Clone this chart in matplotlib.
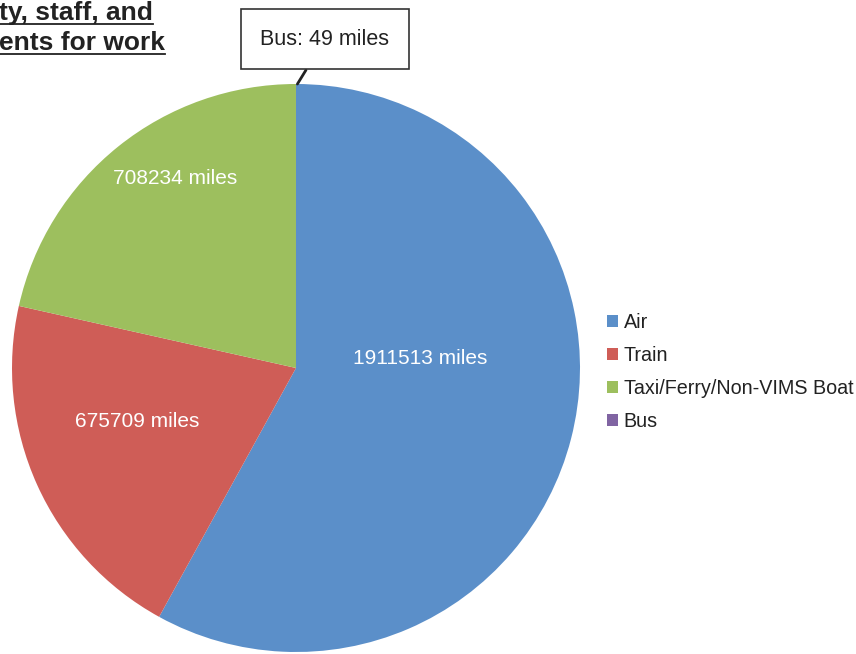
import numpy as np
import matplotlib
matplotlib.use("Agg")
import matplotlib.pyplot as plt
from matplotlib.patches import Patch

plt.rcParams['font.family'] = ['Liberation Sans', 'DejaVu Sans']

# data
modes = ["Air", "Train", "Taxi/Ferry/Non-VIMS Boat", "Bus"]
miles = [1911513, 675709, 708234, 49]
colors = ["#5b8fc9", "#cf5d57", "#9dbf5e", "#8064a2"]
title_lines = ["ty, staff, and", "ents for work"]

W, H = 856, 654
fig = plt.figure(figsize=(W / 100, H / 100), dpi=100)

# pie axes: centre (296, 368) px, radius 284 px
cx, cy, r = 296, 368, 284
ax = fig.add_axes([(cx - r) / W, (H - cy - r) / H, 2 * r / W, 2 * r / H])
wedges, _ = ax.pie(miles, colors=colors, startangle=90, counterclock=False,
                   radius=1, wedgeprops=dict(linewidth=0))
ax.set_xlim(-1, 1)
ax.set_ylim(-1, 1)
ax.set_aspect('equal')
ax.axis('off')

# value labels inside slices
label_pos = [(0.437, 0.035), (-0.56, -0.187), (-0.426, 0.669)]
for (x, y), v in zip(label_pos, miles[:3]):
    ax.text(x, y, f"{v} miles", color="white", fontsize=15,
            ha='center', va='center')

# bus callout
w = wedges[3]
theta = np.deg2rad((w.theta1 + w.theta2) / 2)
ax.annotate(f"Bus: {miles[3]} miles", xy=(np.cos(theta) + 0.005, np.sin(theta)),
            xytext=(0.102, 1.158), fontsize=15.5, ha='center', va='center',
            color="#222222", annotation_clip=False,
            bbox=dict(boxstyle='square,pad=0.92', facecolor='white',
                      edgecolor='#333333', linewidth=1.2),
            arrowprops=dict(arrowstyle='-', color='#222222', linewidth=2,
                            shrinkA=0, shrinkB=0))

# legend
handles = [Patch(facecolor=c, edgecolor='none') for c in colors]
fig.legend(handles, modes, loc='center left', bbox_to_anchor=(607 / W, 1 - 372 / H),
           frameon=False, fontsize=14.2, handlelength=0.55, handleheight=0.55,
           handletextpad=0.3, labelspacing=0.72, borderpad=0, borderaxespad=0,
           labelcolor='#222222')

# cropped title, bold and underlined
baselines = [20, 50]
fig.canvas.draw()
renderer = fig.canvas.get_renderer()
for line, b in zip(title_lines, baselines):
    t = fig.text(-1 / W, 1 - b / H, line, fontsize=19, fontweight='bold',
                 color='#222222', ha='left', va='baseline')
    bb = t.get_window_extent(renderer)
    yline = 1 - (b + 4) / H
    fig.add_artist(plt.Line2D([0, bb.x1 / W], [yline, yline],
                              transform=fig.transFigure, color='#222222',
                              linewidth=1.3))

fig.savefig("out.png", dpi=100)
